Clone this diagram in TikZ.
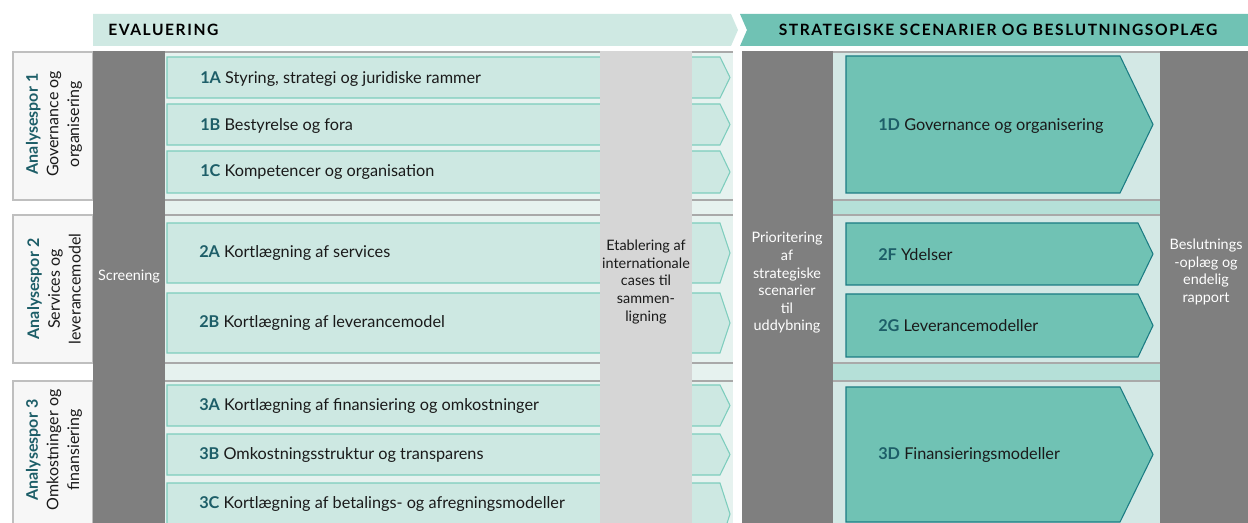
\documentclass[tikz,border=0pt]{standalone}
\usepackage{fontspec}
\setmainfont{Lato}
\definecolor{hdrL}{HTML}{CFE9E3}
\definecolor{hdrD}{HTML}{70C2B4}
\definecolor{evalFill}{HTML}{CDE8E2}
\definecolor{evalLine}{HTML}{7DCDBD}
\definecolor{evalBg}{HTML}{E6F2EF}
\definecolor{stratFill}{HTML}{70C2B4}
\definecolor{stratLine}{HTML}{1B7C83}
\definecolor{stratRow}{HTML}{D3E8E5}
\definecolor{stratGap}{HTML}{B5E0D8}
\definecolor{dgray}{HTML}{7F7F7F}
\definecolor{lgray}{HTML}{D6D6D6}
\definecolor{lblFill}{HTML}{F7F7F7}
\definecolor{lblLine}{HTML}{BFBFBF}
\definecolor{rowLine}{HTML}{A9A9A9}
\definecolor{codeC}{HTML}{1D5E68}
\definecolor{txt}{HTML}{1A1A1A}
\newcommand\kode[1]{\textbf{\textcolor{codeC}{#1}}}
\tikzset{
  hdrtext/.style={font=\fontsize{11.7}{13}\selectfont\bfseries\addfontfeatures{LetterSpace=10}, text=black, inner sep=0pt},
  evalbox/.style={fill=evalFill, draw=evalLine, line width=0.8pt},
  stratbox/.style={fill=stratFill, draw=stratLine, line width=0.8pt},
  lblbox/.style={fill=lblFill, draw=lblLine, line width=1pt},
  rowline/.style={draw=rowLine, line width=1.2pt},
  itemtext/.style={anchor=west, font=\fontsize{12.2}{14}\selectfont, text=txt, inner sep=0pt},
  coltext/.style={align=center, font=\fontsize{10.8}{13.2}\selectfont, inner sep=0pt},
  sidetext/.style={rotate=90, align=center, font=\fontsize{12}{15.5}\selectfont, text=txt, inner sep=0pt}
}
\begin{document}
\begin{tikzpicture}[x=0.75pt,y=-0.75pt]
\useasboundingbox (0,0) rectangle (1248,523);
\clip (0,0) rectangle (1248,523);
% header bands
\fill[hdrL] (93,14) -- (731,14) -- (738,30) -- (731,46) -- (93,46) -- cycle;
\fill[hdrD] (740,14) -- (1248,14) -- (1248,46) -- (740,46) -- (747,30) -- cycle;
\node[hdrtext, anchor=west] (hEval) at (108,30) {EVALUERING};
\node[hdrtext] (hStrat) at (998,30) {STRATEGISKE SCENARIER OG BESLUTNINGSOPLÆG};
% left label boxes
\draw[lblbox] (13,52) rectangle (93,200);
\draw[lblbox] (13,215) rectangle (93,363);
\draw[lblbox] (13,381) rectangle (93,540);
\node[sidetext] (lab1) at (54,124) {\kode{Analysespor 1}\\Governance og\\organisering};
\node[sidetext] (lab2) at (54,289) {\kode{Analysespor 2}\\Services og\\leverancemodel};
\node[sidetext] (lab3) at (54,450) {\kode{Analysespor 3}\\Omkostninger og\\finansiering};
% evaluation background
\fill[evalBg] (165,51) rectangle (733,530);
% strategy area
\fill[stratGap] (833,51) rectangle (1160,530);
\fill[stratRow] (833,52) rectangle (1160,200);
\fill[stratRow] (833,215) rectangle (1160,363);
\fill[stratRow] (833,381) rectangle (1160,540);
\foreach \yy in {52,200,215,363,381}{
  \draw[rowline] (165,\yy) -- (733,\yy);
  \draw[rowline] (833,\yy) -- (1160,\yy);
}
% evaluation boxes
\foreach \t/\b in {57/98,104/145,151/193,223/283,293/353,385/426,434/475,483/545}{
  \draw[evalbox] (167,\t) -- (720,\t) -- (730,{(\t+\b)/2}) -- (720,\b) -- (167,\b) -- cycle;
}
% columns
\fill[dgray] (93,51) rectangle (165,530);
\fill[lgray] (600,51) rectangle (692,530);
\fill[dgray] (742,51) rectangle (833,530);
\fill[dgray] (1160,51) rectangle (1248,530);
% strategy boxes
\draw[stratbox] (846,56) -- (1120,56) -- (1153,124.5) -- (1120,193) -- (846,193) -- cycle;
\draw[stratbox] (846,223) -- (1138,223) -- (1153,254) -- (1138,285) -- (846,285) -- cycle;
\draw[stratbox] (846,294) -- (1138,294) -- (1153,325.5) -- (1138,357) -- (846,357) -- cycle;
\draw[stratbox] (846,387) -- (1120,387) -- (1153,454.5) -- (1120,522) -- (846,522) -- cycle;
% item texts
\node[itemtext] (t1A) at (200,79) {\kode{1A} Styring, strategi og juridiske rammer};
\node[itemtext] (t1B) at (200,126) {\kode{1B} Bestyrelse og fora};
\node[itemtext] (t1C) at (200,172) {\kode{1C} Kompetencer og organisation};
\node[itemtext] (t2A) at (199,253) {\kode{2A} Kortlægning af services};
\node[itemtext] (t2B) at (199,323) {\kode{2B} Kortlægning af leverancemodel};
\node[itemtext] (t3A) at (199,406) {\kode{3A} Kortlægning af finansiering og omkostninger};
\node[itemtext] (t3B) at (199,455) {\kode{3B} Omkostningsstruktur og transparens};
\node[itemtext] (t3C) at (199,504) {\kode{3C} Kortlægning af betalings- og afregningsmodeller};
\node[itemtext] (t1D) at (878,126) {\kode{1D} Governance og organisering};
\node[itemtext] (t2F) at (878,255) {\kode{2F} Ydelser};
\node[itemtext] (t2G) at (878,326) {\kode{2G} Leverancemodeller};
\node[itemtext] (t3D) at (878,455) {\kode{3D} Finansieringsmodeller};
% column texts
\node[coltext, text=white] (scr) at (129,277) {Screening};
\node[coltext, text=txt] (etab) at (646,282) {Etablering af\\internationale\\cases til\\sammen-\\ligning};
\node[coltext, text=white] (prio) at (787,283) {Prioritering\\af\\strategiske\\scenarier\\til\\uddybning};
\node[coltext, text=white] (besl) at (1206,272) {Beslutnings\\-oplæg og\\endelig\\rapport};
\end{tikzpicture}
\end{document}
